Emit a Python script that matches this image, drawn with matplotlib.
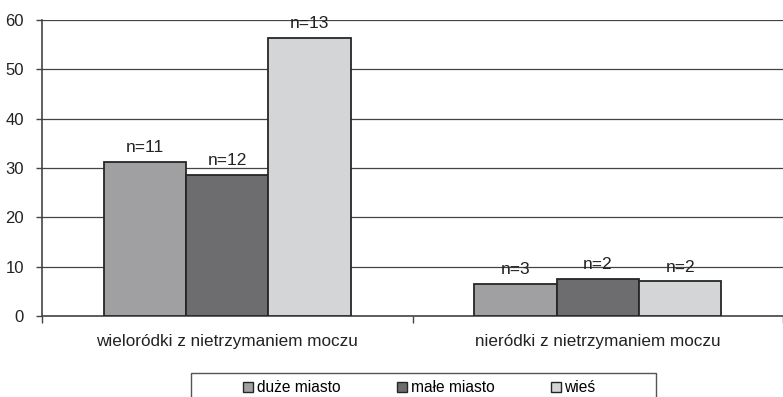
import matplotlib.pyplot as plt
from matplotlib.patches import Rectangle
from matplotlib.lines import Line2D
import numpy as np

plt.rcParams['font.family'] = ['Liberation Sans', 'DejaVu Sans']

categories = ["wieloródki z nietrzymaniem moczu", "nieródki z nietrzymaniem moczu"]
series = ["duże miasto", "małe miasto", "wieś"]
values = {
    "duże miasto": [31.3, 6.4],
    "małe miasto": [28.6, 7.6],
    "wieś": [56.3, 7.0],
}
counts = {
    "duże miasto": ["n=11", "n=3"],
    "małe miasto": ["n=12", "n=2"],
    "wieś": ["n=13", "n=2"],
}
colors = ["#a0a0a3", "#6d6d6f", "#d4d5d7"]

W, H = 783, 397
fig = plt.figure(figsize=(W / 100, H / 100), dpi=100)
ax = fig.add_axes([42 / W, 81 / H, 741 / W, 296 / H])

x = np.arange(len(categories))
bw = 83 / 373
for i, (name, col) in enumerate(zip(series, colors)):
    pos = x + (i - 1) * bw
    bars = ax.bar(pos, values[name], width=bw, color=col, edgecolor="#262626",
                  linewidth=1.3, zorder=3)
    for b, txt in zip(bars, counts[name]):
        ax.annotate(txt, (b.get_x() + b.get_width() / 2, b.get_height()),
                    xytext=(0, 5), textcoords="offset points",
                    ha="center", va="bottom", fontsize=12.5, color="#222222")

ax.set_ylim(0, 60)
ax.set_xlim(-0.5, -0.5 + 741 / 373)
ax.set_yticks(range(0, 61, 10))
ax.yaxis.grid(True, color="#444444", linewidth=0.9, zorder=0)
ax.set_axisbelow(True)

ax.set_xticks([-0.5, 0.5, 1.5])
ax.set_xticklabels([])
ax.set_xticks(x, minor=True)
ax.set_xticklabels(categories, minor=True, fontsize=12.3, color="#222222")
ax.tick_params(axis="x", which="minor", length=0, pad=13)
ax.tick_params(axis="x", which="major", length=5, color="#444444", width=1)
ax.tick_params(axis="y", length=4, color="#444444", width=1,
               labelsize=12, labelcolor="#222222", pad=9)

for s in ["top", "right"]:
    ax.spines[s].set_visible(False)
ax.spines["left"].set_color("#444444")
ax.spines["left"].set_linewidth(1.2)
ax.spines["bottom"].set_color("#444444")
ax.spines["bottom"].set_linewidth(1.2)

# legend box, running off the bottom edge
fig.patches.append(Rectangle((191 / W, -0.05), 465 / W, 0.05 + (H - 373) / H,
                             transform=fig.transFigure, fill=False,
                             edgecolor="#555555", linewidth=1))
handles = [Line2D([], [], marker="s", linestyle="none", markersize=7,
                  markerfacecolor=c, markeredgecolor="#262626", markeredgewidth=1)
           for c in colors]
fig.legend(handles, series, loc="center left", ncol=3, frameon=False,
           bbox_to_anchor=(243 / W, 1 - 388 / H), fontsize=11.2,
           handlelength=0.7, handletextpad=0.2, columnspacing=3.6,
           borderpad=0, borderaxespad=0)

fig.savefig("out.png", dpi=100)
